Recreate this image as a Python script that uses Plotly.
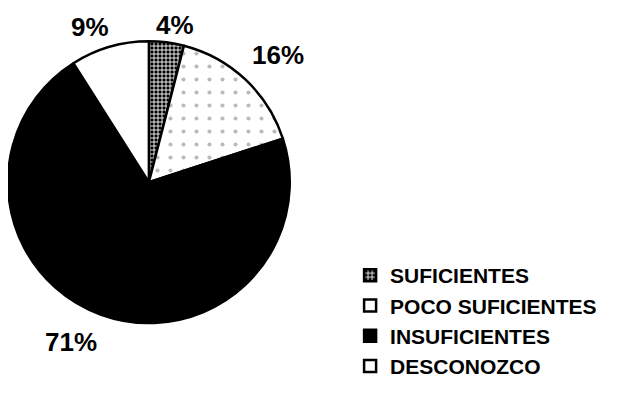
import plotly.graph_objects as go

# === Datos ===
categorias = ["SUFICIENTES", "POCO SUFICIENTES", "INSUFICIENTES", "DESCONOZCO"]
porcentajes = [4, 16, 71, 9]
etiquetas = ["4%", "16%", "71%", "9%"]

# posiciones de las etiquetas (px) alrededor de la torta
pos_etiquetas = [(167, 17), (270, 47), (63, 334), (82, 19)]

fig = go.Figure(go.Pie(
    labels=categorias,
    values=porcentajes,
    textinfo="none",
    sort=False,
    direction="clockwise",
    rotation=0,
    hole=0,
    marker=dict(
        colors=["black", "white", "black", "white"],
        line=dict(color="black", width=2.5),
        pattern=dict(
            shape=["+", ".", "", ""],
            fgcolor=["white", "#bbbbbb", "black", "white"],
            bgcolor=["black", "white", "black", "white"],
            size=[4, 13, 8, 8],
            solidity=[0.4, 0.08, 0.1, 0.1],
        ),
    ),
    domain=dict(x=[0.0, 0.453], y=[0.222, 0.918]),
))

W, H = 622, 405
for txt, (px_, py_) in zip(etiquetas, pos_etiquetas):
    fig.add_annotation(
        x=px_ / W, y=1 - py_ / H, xref="paper", yref="paper",
        text=txt, showarrow=False, xanchor="center", yanchor="middle",
        borderpad=0,
        font=dict(family="Liberation Sans", size=26, color="black", weight="bold"),
    )

fig.update_layout(
    width=W,
    height=H,
    margin=dict(l=0, r=0, t=0, b=0),
    paper_bgcolor="white",
    plot_bgcolor="white",
    font=dict(family="Liberation Sans", color="black"),
    legend=dict(
        x=0.55, y=0.39, xanchor="left", yanchor="top",
        font=dict(family="Liberation Sans", size=21, color="black", weight="bold"),
        tracegroupgap=0,
        itemwidth=30,
    ),
)

fig.write_html("out.html")
